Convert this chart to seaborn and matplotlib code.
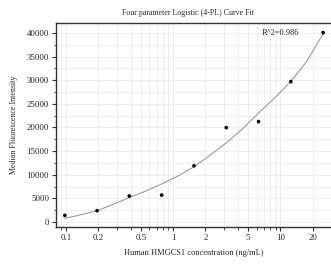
import numpy as np
import pandas as pd
import seaborn as sns
import matplotlib.pyplot as plt
from matplotlib.ticker import LogLocator, FixedLocator, NullFormatter, MultipleLocator

# measured standards
conc = [0.0977, 0.195, 0.39, 0.78, 1.5625, 3.125, 6.25, 12.5, 25]
mfi = [1400, 2400, 5500, 5700, 11900, 19960, 21230, 29700, 40060]

# fitted 4-PL curve
curve_x = [0.0977, 0.135, 0.2, 0.276, 0.395, 0.565, 0.807, 1.155, 1.593, 2.198,
           3.146, 4.49, 6.43, 8.87, 12.69, 17.8, 25]
curve_y = [783, 1480, 2480, 3750, 5230, 6620, 8190, 9950, 11800, 14100,
           16780, 19830, 23340, 26300, 29900, 34150, 39850]

r2_text = 'R^2=0.986'
x_ticks = [0.1, 0.2, 0.5, 1, 2, 5, 10, 20]
x_labels = ['0.1', '0.2', '0.5', '1', '2', '5', '10', '20']
y_ticks = [0, 5000, 10000, 15000, 20000, 25000, 30000, 35000, 40000]

sns.set_style('white')
plt.rcParams['font.family'] = ['Liberation Serif', 'DejaVu Serif']

fig = plt.figure(figsize=(3.31, 2.64), dpi=100)
ax = fig.add_axes([0.169, 0.140, 0.831, 0.773])

pts = pd.DataFrame({'conc': conc, 'mfi': mfi})
fit = pd.DataFrame({'conc': curve_x, 'mfi': curve_y})

sns.lineplot(data=fit, x='conc', y='mfi', ax=ax, color='#9a9a9a', linewidth=0.8,
             estimator=None, sort=False)
sns.scatterplot(data=pts, x='conc', y='mfi', ax=ax, color='black', s=7,
                edgecolor='none', zorder=3)

ax.set_xscale('log')
ax.set_xlim(0.0807, 29.6)
ax.set_ylim(-1060, 42100)

ax.xaxis.set_major_locator(FixedLocator(x_ticks))
ax.set_xticklabels(x_labels)
ax.xaxis.set_minor_locator(LogLocator(base=10, subs=np.arange(2, 10), numticks=20))
ax.xaxis.set_minor_formatter(NullFormatter())
ax.set_yticks(y_ticks)
ax.yaxis.set_minor_locator(MultipleLocator(2500))

ax.grid(True, which='both', color='#ececec', linewidth=0.6)
ax.set_axisbelow(True)

for side in ['top', 'left', 'bottom']:
    ax.spines[side].set_color('#333333')
    ax.spines[side].set_linewidth(1.0)
ax.spines['right'].set_visible(False)

ax.tick_params(which='major', direction='out', length=3, width=0.8, labelsize=6.3,
               colors='#333333', bottom=True, left=True, pad=2)
ax.tick_params(which='minor', direction='out', length=1.8, width=0.6,
               colors='#333333', bottom=True, left=True)
for lab in ax.get_xticklabels() + ax.get_yticklabels():
    lab.set_color('#222222')

ax.set_xlabel('Human HMGCS1 concentration (ng/mL)', fontsize=6, labelpad=5)
ax.set_ylabel('Median Fluorescence Intensity', fontsize=5.8, labelpad=6)
ax.text(6.7, 40000, r2_text, fontsize=6, va='center', ha='left')
fig.text(0.568, 0.95, 'Four parameter Logistic (4-PL) Curve Fit', fontsize=5.7,
         ha='center', va='center')

fig.savefig('out.png', dpi=100)
